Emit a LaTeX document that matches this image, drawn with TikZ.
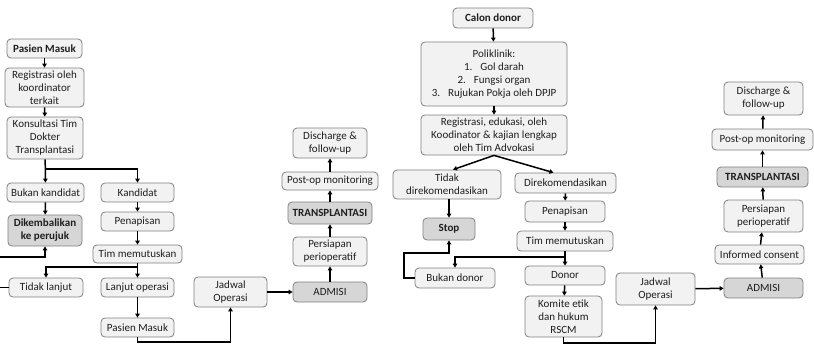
\documentclass[tikz,border=0pt]{standalone}
\usepackage{fontspec}
\setmainfont{Carlito}
\usepackage{tikz}
\usetikzlibrary{arrows.meta, positioning, calc}
\definecolor{boxline}{RGB}{128, 128, 128}
\definecolor{boxfill}{RGB}{242, 242, 242}
\definecolor{boxdark}{RGB}{214, 214, 214}
\definecolor{inktext}{RGB}{30, 30, 30}

\begin{document}
\begin{tikzpicture}[
      x=1pt, y={(0pt,-1pt)},
      box/.style={draw=boxline, fill=boxfill, rounded corners=4pt, line width=0.8pt,
                  inner sep=1pt, align=center, text=inktext,
                  font=\fontsize{11}{13}\selectfont},
      darkbox/.style={box, fill=boxdark},
      arr/.style={-{Triangle[length=4pt, width=4.5pt]}, line width=1.5pt, black},
      lin/.style={line width=1.5pt, black}
    ]
      \useasboundingbox (0,0) rectangle (814,343);
      \clip (0,0) rectangle (814,343);

      % penerima
      \node[box, minimum width=75, minimum height=19] (pm1) at (44.5,48.5) {\textbf{Pasien Masuk}};
      \node[box, minimum width=79, minimum height=39] (reg1) at (44.5,87.5) {Registrasi oleh\\koordinator\\terkait};
      \node[box, minimum width=76, minimum height=42] (kons) at (45,138) {Konsultasi Tim\\Dokter\\Transplantasi};
      \node[box, minimum width=77, minimum height=19] (bukan) at (45.5,192.5) {Bukan kandidat};
      \node[box, minimum width=73, minimum height=19] (kand) at (137.5,192.5) {Kandidat};
      \node[darkbox, minimum width=74, minimum height=31] (dik) at (45,230.5) {\textbf{Dikembalikan}\\\textbf{ke perujuk}};
      \node[box, minimum width=73, minimum height=19] (pen1) at (137.5,221.5) {Penapisan};
      \node[box, minimum width=89, minimum height=18] (tim1) at (137.5,254) {Tim memutuskan};
      \node[box, minimum width=74, minimum height=19] (tidak) at (46,287.5) {Tidak lanjut};
      \node[box, minimum width=73, minimum height=19] (lanjut) at (137.5,287.5) {Lanjut operasi};
      \node[box, minimum width=73, minimum height=19] (pm2) at (137.5,327.5) {Pasien Masuk};
      \node[box, minimum width=73, minimum height=30] (jad1) at (230.5,292) {Jadwal\\Operasi};
      \node[darkbox, minimum width=74, minimum height=20] (adm1) at (330,292) {ADMISI};
      \node[box, minimum width=74, minimum height=29] (per1) at (330,251.5) {Persiapan\\perioperatif};
      \node[darkbox, minimum width=84, minimum height=22] (tx1) at (330,213) {\textbf{TRANSPLANTASI}};
      \node[box, minimum width=96, minimum height=18] (post1) at (330,181) {Post-op monitoring};
      \node[box, minimum width=74, minimum height=30] (dis1) at (330,143) {Discharge \&\\follow-up};

      \coordinate (kj) at (45,169);
      \coordinate (tj) at (137.5,267);
      \coordinate (offl) at (-10,257);
      \coordinate (bot1) at (137.5,342);

      \draw[arr] (pm1) -- (reg1);
      \draw[arr] (reg1) -- (kons);
      \draw[arr] (kons) -- (bukan);
      \draw[arr] (kj) -| (kand.north);
      \draw[arr] (bukan) -- (dik);
      \draw[arr] (kand) -- (pen1);
      \draw[arr] (pen1) -- (tim1);
      \draw[arr] (tim1) -- (lanjut);
      \draw[arr] (tj) -| (tidak.north);
      \draw[arr] (tidak.west) -| (offl) -| (dik.south);
      \draw[arr] (lanjut) -- (pm2);
      \draw[arr] (pm2.south) -- (bot1) -| (jad1.south);
      \draw[arr] (jad1) -- (adm1);
      \draw[arr] (adm1) -- (per1);
      \draw[arr] (per1) -- (tx1);
      \draw[arr] (tx1) -- (post1);
      \draw[arr] (post1) -- (dis1);

      % donor
      \node[box, minimum width=80, minimum height=20] (calon) at (493,18) {\textbf{Calon donor}};
      \node[box, minimum width=146, minimum height=64] (poli) at (494,74) {Poliklinik:\\1.\enspace\ Gol darah\\2.\enspace\ Fungsi organ\\3.\enspace\ Rujukan Pokja oleh DPJP};
      \node[box, minimum width=146, minimum height=40] (reg2) at (494,135) {Registrasi, edukasi, oleh\\Koodinator \& kajian lengkap\\oleh Tim Advokasi};
      \node[box, minimum width=108, minimum height=29] (tdr) at (447,184.5) {Tidak\\direkomendasikan};
      \node[box, minimum width=101, minimum height=20] (dr) at (565.5,183) {Direkomendasikan};
      \node[box, minimum width=80, minimum height=21] (pen2) at (565,211.5) {Penapisan};
      \node[box, minimum width=96, minimum height=20] (tim2) at (565,241) {Tim memutuskan};
      \node[darkbox, minimum width=52, minimum height=22] (stop) at (449,229) {\textbf{Stop}};
      \node[box, minimum width=80, minimum height=20] (bukdon) at (455,278) {Bukan donor};
      \node[box, minimum width=80, minimum height=19] (donor) at (565,275.5) {Donor};
      \node[box, minimum width=77, minimum height=41] (komite) at (563.5,316.5) {Komite etik\\dan hukum\\RSCM};
      \node[box, minimum width=79, minimum height=32] (jad2) at (655.5,289) {Jadwal\\Operasi};
      \node[darkbox, minimum width=79, minimum height=20] (adm2) at (763.5,288) {ADMISI};
      \node[box, minimum width=89, minimum height=19] (inf) at (759.5,254.5) {Informed consent};
      \node[box, minimum width=79, minimum height=32] (per2) at (763.5,216) {Persiapan\\perioperatif};
      \node[darkbox, minimum width=91, minimum height=20] (tx2) at (762.5,177) {\textbf{TRANSPLANTASI}};
      \node[box, minimum width=101, minimum height=21] (post2) at (762.5,139.5) {Post-op monitoring};
      \node[box, minimum width=79, minimum height=33] (dis2) at (763.5,98.5) {Discharge \&\\follow-up};

      \coordinate (dj) at (565,257);
      \coordinate (bdl) at (404,253);
      \coordinate (bot2) at (610,343);

      \draw[arr] (calon) -- (poli);
      \draw[arr] (poli) -- (reg2);
      \draw[arr] (reg2.south) -- ([xshift=6]tdr.north);
      \draw[arr] (reg2.south) -- ([xshift=-12]dr.north);
      \draw[arr] (tdr.south -| stop.north) -- (stop.north);
      \draw[arr] (dr) -- (pen2);
      \draw[arr] (pen2) -- (tim2);
      \draw[arr] (tim2) -- (donor);
      \draw[arr] (dj) -| (bukdon.north);
      \draw[arr] (bukdon.west) -| (bdl) -| (stop.south);
      \draw[arr] (donor) -- (komite);
      \draw[lin] (komite.south) |- (bot2);
      \draw[arr] (bot2) -| (jad2.south);
      \draw[arr] (jad2) -- (adm2);
      \draw[arr] (adm2) -- (inf);
      \draw[arr] (inf) -- (per2);
      \draw[arr] (per2) -- (tx2);
      \draw[arr] (tx2) -- (post2);
      \draw[arr] (post2) -- (dis2);
    \end{tikzpicture}
\end{document}
